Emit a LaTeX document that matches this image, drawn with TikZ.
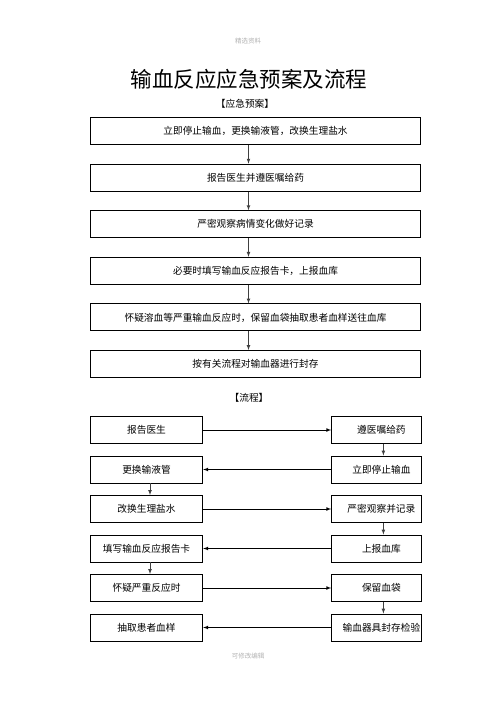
\documentclass[tikz,border=0pt]{standalone}
\usepackage{fontspec}
\setmainfont{Noto Sans CJK SC}
\usepackage{xcolor}
\usetikzlibrary{shapes, arrows, positioning}

\begin{document}
\begin{tikzpicture}[
    x=1pt, y=-1pt,
    node distance=18.7pt,
    plan/.style={rectangle, draw, line width=0.9pt, minimum width=330pt, minimum height=27pt, inner sep=0pt, font=\fontsize{9.7}{12}\selectfont},
    stepl/.style={rectangle, draw, line width=0.9pt, minimum width=112.5pt, minimum height=27pt, inner sep=0pt, font=\fontsize{9.7}{12}\selectfont},
    stepr/.style={stepl, minimum width=89.5pt, execute at begin node={\hspace*{10pt}}},
    heading/.style={font=\fontsize{9.7}{12}\selectfont},
    note/.style={text=gray!60, font=\fontsize{6.5}{8}\selectfont},
    arrow/.style={-latex, line width=0.7pt}
    ]
    \useasboundingbox (0,0) rectangle (496,702);

    % page notes and titles
    \node (top) [note] at (248,41) {精选资料};
    \node (title) [font=\fontsize{21.5}{26}\selectfont] at (249,79) {输血反应应急预案及流程};
    \node (sub1) [heading] at (245,104) {【应急预案】};

    % emergency plan boxes
    \node (plan1) [plan] at (255.5,131) {立即停止输血，更换输液管，改换生理盐水};
    \node (plan2) [plan, below=of plan1] {报告医生并遵医嘱给药};
    \node (plan3) [plan, below=of plan2] {严密观察病情变化做好记录};
    \node (plan4) [plan, below=of plan3] {必要时填写输血反应报告卡，上报血库};
    \node (plan5) [plan, below=of plan4] {怀疑溶血等严重输血反应时，保留血袋抽取患者血样送往血库};
    \node (plan6) [plan, below=of plan5] {按有关流程对输血器进行封存};

    % arrows between plan boxes
    \draw[arrow, black!75] ([xshift=-7pt]plan1.south) -- ([xshift=-7pt]plan2.north);
    \draw[arrow, black!75] ([xshift=-7pt]plan2.south) -- ([xshift=-7pt]plan3.north);
    \draw[arrow, black!75] ([xshift=-7pt]plan3.south) -- ([xshift=-7pt]plan4.north);
    \draw[arrow, black!75] ([xshift=-7pt]plan4.south) -- ([xshift=-7pt]plan5.north);
    \draw[arrow, black!75] ([xshift=-7pt]plan5.south) -- ([xshift=-7pt]plan6.north);

    \node (sub2) [heading] at (249,398) {【流程】};

    % flow boxes, left column
    \node (l1) [stepl] at (146.5,430) {报告医生};
    \node (l2) [stepl, below=11.6pt of l1] {更换输液管};
    \node (l3) [stepl, below=11.6pt of l2] {改换生理盐水};
    \node (l4) [stepl, below=11.6pt of l3] {填写输血反应报告卡};
    \node (l5) [stepl, below=11.6pt of l4] {怀疑严重反应时};
    \node (l6) [stepl, below=11.6pt of l5] {抽取患者血样};

    % flow boxes, right column
    \node (r1) [stepr, right=128pt of l1] {遵医嘱给药};
    \node (r2) [stepr, right=128pt of l2] {立即停止输血};
    \node (r3) [stepr, right=128pt of l3] {严密观察并记录};
    \node (r4) [stepr, right=128pt of l4] {上报血库};
    \node (r5) [stepr, right=128pt of l5] {保留血袋};
    \node (r6) [stepr, right=128pt of l6] {输血器具封存检验};

    % arrows across
    \draw[arrow] (l1) -- (r1);
    \draw[arrow] (r2) -- (l2);
    \draw[arrow] (l3) -- (r3);
    \draw[arrow] (r4) -- (l4);
    \draw[arrow] (l5) -- (r5);
    \draw[arrow] (r6) -- (l6);

    % arrows down
    \draw[arrow, black!75] ([xshift=7pt]r1.south) -- ([xshift=7pt]r2.north);
    \draw[arrow, black!75] ([xshift=3.5pt]l2.south) -- ([xshift=3.5pt]l3.north);
    \draw[arrow, black!75] ([xshift=7pt]r3.south) -- ([xshift=7pt]r4.north);
    \draw[arrow, black!75] ([xshift=3.5pt]l4.south) -- ([xshift=3.5pt]l5.north);
    \draw[arrow, black!75] ([xshift=7pt]r5.south) -- ([xshift=7pt]r6.north);

    \node (bottom) [note] at (248,656) {可修改编辑};
\end{tikzpicture}
\end{document}
